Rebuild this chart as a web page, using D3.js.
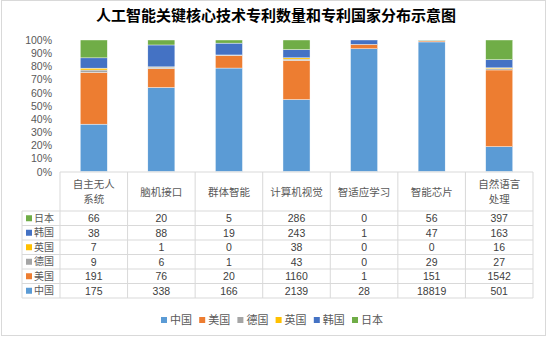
<!DOCTYPE html>
<html>
<head>
<meta charset="utf-8">
<script src="https://cdn.jsdelivr.net/npm/d3@7"></script>
<style>
  body { margin: 0; background: #fff; }
  text { font-family: "Noto Sans CJK SC", "DejaVu Sans", sans-serif; }
  text.num { font-family: "Liberation Sans", "DejaVu Sans", sans-serif; }
</style>
</head>
<body>
<div id="chart"></div>
<script>
var W = 548, H = 338;

// patent counts per technology, one array per country
var categories = ["自主无人系统", "脑机接口", "群体智能", "计算机视觉", "智适应学习", "智能芯片", "自然语言处理"];
var headerLines = [["自主无人", "系统"], ["脑机接口"], ["群体智能"], ["计算机视觉"], ["智适应学习"], ["智能芯片"], ["自然语言", "处理"]];
var countries = ["中国", "美国", "德国", "英国", "韩国", "日本"];
var china   = [175, 338, 166, 2139, 28, 18819, 501];
var usa     = [191, 76, 20, 1160, 1, 151, 1542];
var germany = [9, 6, 1, 43, 0, 29, 27];
var uk      = [7, 1, 0, 38, 0, 0, 16];
var korea   = [38, 88, 19, 243, 1, 47, 163];
var japan   = [66, 20, 5, 286, 0, 56, 397];
var yTicks  = [0, 0.1, 0.2, 0.3, 0.4, 0.5, 0.6, 0.7, 0.8, 0.9, 1];

var seriesVals = [china, usa, germany, uk, korea, japan];
var colors = ["#5b9bd5", "#ed7d31", "#a5a5a5", "#ffc000", "#4472c4", "#70ad47"];

var data = categories.map(function(c, i) {
  var row = { cat: c };
  countries.forEach(function(k, j) { row[k] = seriesVals[j][i]; });
  return row;
});

var svg = d3.select("#chart").append("svg").attr("width", W).attr("height", H);

// outer frame
svg.append("rect").attr("x", 1.5).attr("y", 0.5).attr("width", 544).attr("height", 335)
  .attr("fill", "#fff").attr("stroke", "#d9d9d9");

svg.append("text").attr("x", 276).attr("y", 21).attr("text-anchor", "middle")
  .attr("font-size", 15).attr("font-weight", "bold").attr("fill", "#000")
  .text("人工智能关键核心技术专利数量和专利国家分布示意图");

var x = d3.scaleBand().domain(categories).range([60, 533]).paddingInner(0.6).paddingOuter(0.3);
var y = d3.scaleLinear().domain([0, 1]).range([171.5, 40]);
var z = d3.scaleOrdinal().domain(countries).range(colors);

// y axis labels
svg.append("g").selectAll("text").data(yTicks).enter().append("text")
  .attr("class", "num")
  .attr("x", 52).attr("y", function(d) { return y(d) + 4; })
  .attr("text-anchor", "end").attr("font-size", 10.5).attr("fill", "#595959")
  .text(d3.format(".0%"));

var stack = d3.stack().keys(countries).offset(d3.stackOffsetExpand);

svg.append("g").selectAll("g").data(stack(data)).enter().append("g")
  .attr("fill", function(d) { return z(d.key); })
  .selectAll("rect").data(function(d) { return d; }).enter().append("rect")
    .attr("x", function(d) { return x(d.data.cat); })
    .attr("y", function(d) { return y(d[1]); })
    .attr("height", function(d) { return y(d[0]) - y(d[1]); })
    .attr("width", x.bandwidth())
    .attr("stroke", "#fff").attr("stroke-width", 0.4);

// data table under the plot
var step = x.step();
var colLeft = 60, colRight = 533, tTop = 172, hBottom = 211, rowH = 14.5;
var rows = countries.slice().reverse();
var tBottom = hBottom + rows.length * rowH;
var lineC = "#d9d9d9";
var tbl = svg.append("g");

tbl.append("line").attr("x1", colLeft).attr("x2", colRight).attr("y1", tTop).attr("y2", tTop)
  .attr("stroke", lineC);
d3.range(categories.length + 1).forEach(function(i) {
  var xx = colLeft + i * step;
  tbl.append("line").attr("x1", xx).attr("x2", xx).attr("y1", tTop).attr("y2", tBottom).attr("stroke", lineC);
});
d3.range(rows.length + 1).forEach(function(i) {
  var yy = hBottom + i * rowH;
  tbl.append("line").attr("x1", 22).attr("x2", colRight).attr("y1", yy).attr("y2", yy).attr("stroke", lineC);
});
tbl.append("line").attr("x1", 22).attr("x2", 22).attr("y1", hBottom).attr("y2", tBottom).attr("stroke", lineC);

// header labels
categories.forEach(function(c, i) {
  var cx = x(c) + x.bandwidth() / 2;
  var lines = headerLines[i];
  lines.forEach(function(t, k) {
    var yy = lines.length === 1 ? 195.5 : 187.5 + k * 15;
    tbl.append("text").attr("x", cx).attr("y", yy).attr("text-anchor", "middle")
      .attr("font-size", 10.5).attr("fill", "#595959").text(t);
  });
});

// value rows
rows.forEach(function(k, r) {
  var cy = hBottom + r * rowH + rowH / 2;
  tbl.append("rect").attr("x", 26).attr("y", cy - 3).attr("width", 6).attr("height", 6).attr("fill", z(k));
  tbl.append("text").attr("x", 34).attr("y", cy + 3.5).attr("font-size", 10).attr("fill", "#595959").text(k);
  data.forEach(function(d) {
    tbl.append("text").attr("class", "num").attr("x", x(d.cat) + x.bandwidth() / 2).attr("y", cy + 4)
      .attr("text-anchor", "middle").attr("font-size", 10.5).attr("fill", "#404040").text(d[k]);
  });
});

// legend
var leg = svg.append("g").selectAll("g").data(countries).enter().append("g")
  .attr("transform", function(d, i) { return "translate(" + (161 + i * 38.2) + ",320)"; });
leg.append("rect").attr("x", 0).attr("y", -3).attr("width", 6).attr("height", 6).attr("fill", function(d) { return z(d); });
leg.append("text").attr("x", 9).attr("y", 4).attr("font-size", 11).attr("fill", "#595959").text(function(d) { return d; });
</script>
</body>
</html>
